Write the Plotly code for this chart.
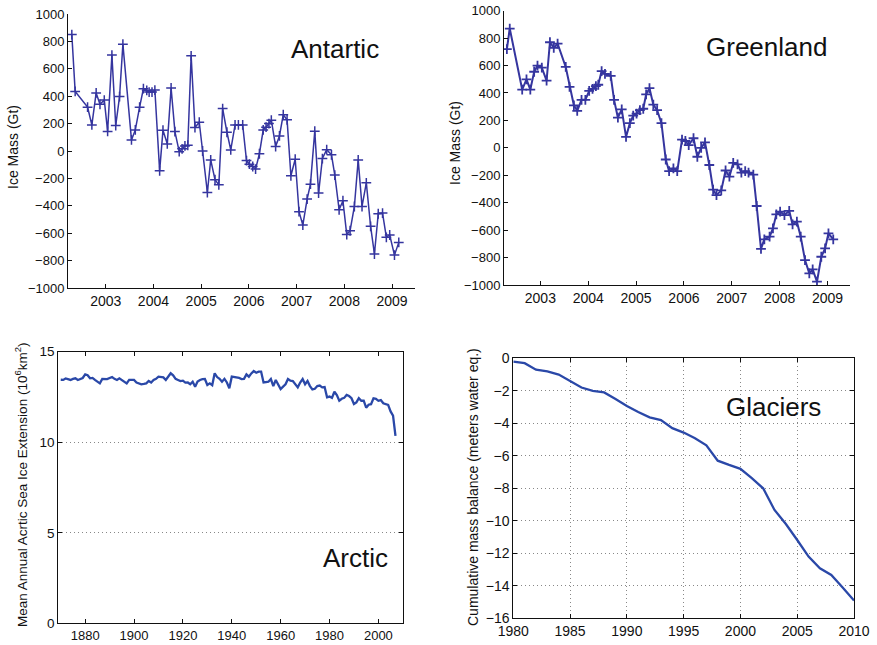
import plotly.graph_objects as go

# ---------------- data ----------------
ant_t = [2002.29, 2002.36, 2002.62, 2002.71, 2002.80, 2002.88, 2002.97, 2003.04, 2003.13, 2003.21,
         2003.29, 2003.36, 2003.54, 2003.62, 2003.71, 2003.79, 2003.86, 2003.91, 2003.97, 2004.03,
         2004.13, 2004.20, 2004.29, 2004.37, 2004.45, 2004.54, 2004.60, 2004.66, 2004.72, 2004.79,
         2004.87, 2004.96, 2005.03, 2005.13, 2005.20, 2005.29, 2005.37, 2005.45, 2005.54, 2005.62,
         2005.71, 2005.78, 2005.87, 2005.95, 2006.01, 2006.08, 2006.14, 2006.22, 2006.30, 2006.36,
         2006.42, 2006.47, 2006.56, 2006.64, 2006.72, 2006.80, 2006.88, 2006.97, 2007.05, 2007.13,
         2007.22, 2007.29, 2007.38, 2007.46, 2007.54, 2007.63, 2007.73, 2007.80, 2007.89, 2007.97,
         2008.05, 2008.12, 2008.21, 2008.29, 2008.37, 2008.46, 2008.55, 2008.63, 2008.71, 2008.80,
         2008.88, 2008.95, 2009.05, 2009.14]
ant_mass = [850, 435, 320, 190, 424, 341, 372, 143, 700, 186,
            397, 780, 81, 154, 320, 455, 442, 430, 430, 445,
            -145, 152, 52, 460, 142, -5, 16, 37, 42, 695,
            171, 210, 0, -303, -65, -210, -247, 310, 137, 8,
            190, 190, 190, -70, -96, -113, -132, -20, 154, 174,
            200, 225, 33, 110, 265, 228, -181, -60, -443, -541,
            -351, -242, 145, -307, -55, 10, -28, -176, -429, -363,
            -610, -582, -405, -65, -405, -232, -550, -752, -458, -453,
            -630, -613, -760, -667]

grl_t = [2002.30, 2002.36, 2002.62, 2002.71, 2002.79, 2002.87, 2002.94, 2003.03, 2003.13, 2003.20,
         2003.28, 2003.36, 2003.53, 2003.61, 2003.70, 2003.77, 2003.86, 2003.94, 2004.02, 2004.09,
         2004.16, 2004.21, 2004.28, 2004.35, 2004.47, 2004.54, 2004.62, 2004.70, 2004.79, 2004.87,
         2004.94, 2005.01, 2005.08, 2005.15, 2005.21, 2005.28, 2005.36, 2005.44, 2005.53, 2005.62,
         2005.69, 2005.78, 2005.86, 2005.96, 2006.03, 2006.10, 2006.20, 2006.28, 2006.36, 2006.44,
         2006.53, 2006.61, 2006.68, 2006.78, 2006.87, 2006.95, 2007.03, 2007.12, 2007.20, 2007.28,
         2007.35, 2007.45, 2007.52, 2007.61, 2007.68, 2007.79, 2007.86, 2007.93, 2008.01, 2008.10,
         2008.20, 2008.27, 2008.36, 2008.44, 2008.53, 2008.62, 2008.69, 2008.78, 2008.87, 2008.95,
         2009.02, 2009.12]
grl_mass = [720, 870, 425, 500, 425, 555, 600, 585, 490, 770,
            730, 760, 590, 445, 310, 270, 350, 350, 415, 430,
            450, 460, 560, 540, 525, 350, 220, 280, 80, 180,
            235, 250, 275, 285, 390, 435, 315, 275, 180, -85,
            -170, -150, -170, 60, 50, 20, 70, -65, 0, 40,
            -125, -305, -345, -310, -165, -210, -110, -120, -180, -170,
            -180, -195, -424, -737, -667, -648, -587, -485, -465, -490,
            -460, -558, -538, -648, -818, -915, -886, -976, -794, -733,
            -623, -667]

arc_years = list(range(1870, 2008))
arc_extent = [13.45, 13.44, 13.52, 13.48, 13.44, 13.50, 13.53, 13.44, 13.48, 13.55,
              13.75, 13.70, 13.53, 13.55, 13.44, 13.35, 13.25, 13.50, 13.48, 13.49,
              13.55, 13.60, 13.50, 13.44, 13.53, 13.45, 13.35, 13.25, 13.44, 13.42,
              13.44, 13.30, 13.25, 13.20, 13.22, 13.25, 13.38, 13.30, 13.44, 13.50,
              13.62, 13.62, 13.58, 13.44, 13.60, 13.81, 13.70, 13.50, 13.44, 13.38,
              13.40, 13.29, 13.30, 13.20, 13.34, 13.07, 13.35, 13.44, 13.48, 13.49,
              13.16, 13.25, 13.15, 13.81, 13.60, 13.50, 13.34, 13.50, 13.30, 12.98,
              13.62, 13.60, 13.55, 13.55, 13.49, 13.50, 13.75, 13.62, 13.80, 13.93,
              13.84, 13.90, 13.90, 13.30, 13.32, 13.34, 13.49, 13.10, 13.44, 13.20,
              12.94, 13.07, 13.20, 13.49, 13.40, 13.38, 13.20, 13.03, 13.30, 13.49,
              13.20, 13.38, 13.10, 12.92, 12.95, 13.10, 13.13, 13.03, 13.05, 12.48,
              12.52, 12.45, 12.79, 12.60, 12.29, 12.40, 12.45, 12.61, 12.55, 12.43,
              12.11, 12.20, 12.43, 12.29, 12.30, 11.91, 12.07, 12.10, 12.43, 12.40,
              12.29, 12.33, 12.15, 12.10, 12.06, 11.70, 11.47, 10.35]

gla_years = list(range(1980, 2011))
gla_balance = [-0.2, -0.3, -0.7, -0.8, -1.0, -1.4, -1.8, -2.0, -2.1, -2.5,
               -2.93, -3.3, -3.63, -3.8, -4.3, -4.57, -4.92, -5.35, -6.3, -6.56,
               -6.8, -7.38, -8.0, -9.33, -10.2, -11.18, -12.2, -12.92, -13.33, -14.1,
               -14.9]

ice_ticks = list(range(-1000, 1001, 200))
year_ticks_top = list(range(2003, 2010))
arc_ticks_x = list(range(1880, 2001, 20))
arc_ticks_y = [0, 5, 10, 15]
gla_ticks_x = list(range(1980, 2011, 5))
gla_ticks_y = list(range(-16, 1, 2))

# ---------------- layout helpers ----------------
W, H = 877, 645
FONT = "Liberation Sans, Arial, Helvetica, sans-serif"
TOP_COLOR = "#35359f"
BOT_COLOR = "#2a48a8"


def px_x(a):
    return a / W


def px_y(b):
    return 1 - b / H


def xd(a, b):
    return [px_x(a), px_x(b)]


def yd(top, bottom):
    return [px_y(bottom), px_y(top)]


fig = go.Figure()

fig.add_trace(go.Scatter(x=ant_t, y=ant_mass, mode="lines+markers", xaxis="x", yaxis="y",
                         line=dict(color=TOP_COLOR, width=1.5),
                         marker=dict(symbol="cross-thin-open", size=7,
                                     line=dict(color=TOP_COLOR, width=1.5)),
                         showlegend=False))
fig.add_trace(go.Scatter(x=grl_t, y=grl_mass, mode="lines+markers", xaxis="x2", yaxis="y2",
                         line=dict(color=TOP_COLOR, width=2),
                         marker=dict(symbol="cross-thin-open", size=7,
                                     line=dict(color=TOP_COLOR, width=1.8)),
                         showlegend=False))
fig.add_trace(go.Scatter(x=arc_years, y=arc_extent, mode="lines", xaxis="x3", yaxis="y3",
                         line=dict(color=BOT_COLOR, width=2.3), showlegend=False))
fig.add_trace(go.Scatter(x=gla_years, y=gla_balance, mode="lines", xaxis="x4", yaxis="y4",
                         line=dict(color=BOT_COLOR, width=2.3), showlegend=False))

common = dict(showline=True, linecolor="#111", linewidth=1, ticks="inside", ticklen=4,
              tickcolor="#111", zeroline=False, showgrid=False, automargin=False,
              ticklabeloverflow="allow")

grid = dict(showgrid=True, gridcolor="#888", gridwidth=1, griddash="1px,3px")

fig.update_layout(
    width=W, height=H,
    margin=dict(l=0, r=0, t=0, b=0),
    paper_bgcolor="white", plot_bgcolor="white",
    font=dict(family=FONT, color="#111", size=12),
    xaxis=dict(domain=xd(68, 415), range=[2002.21, 2009.48], tickvals=year_ticks_top,
               anchor="y", tickfont=dict(size=14), **common),
    yaxis=dict(domain=yd(14, 288), range=[-1000, 1000], tickvals=ice_ticks,
               anchor="x", tickfont=dict(size=13), **common),
    xaxis2=dict(domain=xd(504, 850), range=[2002.24, 2009.47], tickvals=year_ticks_top,
                anchor="y2", tickfont=dict(size=14), **common),
    yaxis2=dict(domain=yd(10.7, 285), range=[-1000, 1000], tickvals=ice_ticks,
                anchor="x2", tickfont=dict(size=13), **common),
    xaxis3=dict(domain=xd(58.3, 403.3), range=[1869, 2010.2], tickvals=arc_ticks_x,
                anchor="y3", mirror="ticks", tickfont=dict(size=13), **common),
    yaxis3=dict(domain=yd(351.7, 623.3), range=[0, 15], tickvals=arc_ticks_y,
                anchor="x3", mirror="ticks", tickfont=dict(size=13.5),
                **{**common, **grid}),
    xaxis4=dict(domain=xd(513.3, 854), range=[1980, 2010], tickvals=gla_ticks_x,
                anchor="y4", mirror="ticks", tickfont=dict(size=14),
                **{**common, **grid}),
    yaxis4=dict(domain=yd(358.3, 618.3), range=[-16, 0], tickvals=gla_ticks_y,
                anchor="x4", mirror="ticks", tickfont=dict(size=14),
                **{**common, **grid}),
)


def ann(text, px, py, size, angle=0):
    fig.add_annotation(text=text, x=px_x(px), y=px_y(py), xref="paper", yref="paper",
                       showarrow=False, textangle=angle, xanchor="center", yanchor="middle",
                       font=dict(family=FONT, size=size, color="#111"))


ann("Antartic", 335, 49, 26)
ann("Greenland", 766, 47, 26)
ann("Arctic", 355, 558, 26)
ann("Glaciers", 773, 407, 26)
ann("Ice Mass (Gt)", 13, 147, 14, -90)
ann("Ice Mass (Gt)", 455, 143, 14, -90)
ann("Mean Annual Acrtic Sea Ice Extension (10<sup>6</sup>km<sup>2</sup>)", 21, 485, 13.5, -90)
ann("Cumulative mass balance (meters water eq.)", 473, 487, 14, -90)

fig.write_html("out.html", config={"displayModeBar": False},
               post_script="document.body.style.margin='0';")
